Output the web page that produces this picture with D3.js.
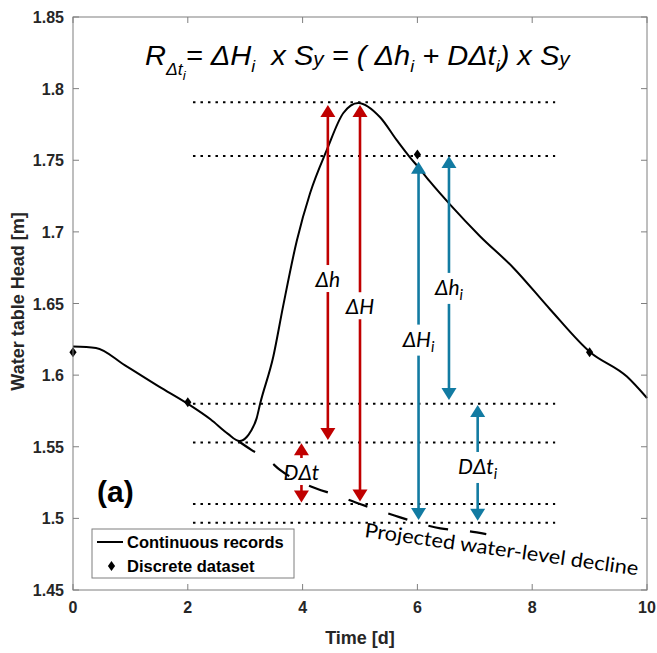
<!DOCTYPE html>
<html><head><meta charset="utf-8">
<script src="https://cdn.jsdelivr.net/npm/d3@7"></script>
<style>
html,body{margin:0;padding:0;background:#fff;}
svg{display:block;}
</style></head>
<body>
<script>
// ---------- data ----------
const xTicks = [0, 2, 4, 6, 8, 10];
const yTicks = [1.45, 1.5, 1.55, 1.6, 1.65, 1.7, 1.75, 1.8, 1.85];
const yTickLabels = ["1.45", "1.5", "1.55", "1.6", "1.65", "1.7", "1.75", "1.8", "1.85"];

const contX = [0, 0.4, 0.9, 1.5, 2.0, 2.4, 2.7, 2.9, 3.03, 3.1, 3.2, 3.26, 3.49, 3.66, 3.9, 4.13, 4.42, 4.71, 4.97, 5.35, 5.64, 5.87, 6.02, 6.22, 6.57, 7.09, 7.67, 8.31, 9.01, 9.65, 10];
const contY = [1.620, 1.619, 1.607, 1.592, 1.580, 1.569, 1.559, 1.554, 1.557, 1.561, 1.570, 1.580, 1.613, 1.648, 1.694, 1.727, 1.757, 1.783, 1.790, 1.780, 1.764, 1.752, 1.745, 1.735, 1.719, 1.697, 1.675, 1.646, 1.616, 1.599, 1.584];

const discX = [0, 2, 6, 9];
const discY = [1.616, 1.581, 1.754, 1.616];

const projX = [2.88, 3.1, 3.4, 3.6, 4.1, 4.6, 5.0, 5.6, 6.0, 6.4, 6.9, 7.2];
const projY = [1.554, 1.548, 1.541, 1.534, 1.523, 1.516, 1.510, 1.502, 1.497, 1.493, 1.491, 1.489];

const refLevels = [1.7905, 1.753, 1.580, 1.553, 1.510, 1.497];
const refStart = 2.09, refEnd = 8.4;

const arrowX      = [4.44, 5.0, 3.98, 6.02, 6.55, 7.05];
const arrowTop    = [1.7886, 1.7886, 1.5524, 1.749, 1.753, 1.5792];
const arrowBottom = [1.5547, 1.5117, 1.511, 1.4989, 1.5827, 1.4984];
const arrowGroup  = ["red", "red", "red", "blue", "blue", "blue"];
const labelMain   = ["Δh", "ΔH", "DΔt", "ΔH", "Δh", "DΔt"];
const labelSub    = ["", "", "", "i", "i", "i"];
const labelY      = [1.6615, 1.6425, 1.5268, 1.6199, 1.656, 1.531];

const legendLabels = ["Continuous records", "Discrete dataset"];

// ---------- setup ----------
const W = 657, H = 653;
const L = 73, R = 647, T = 17, B = 590;
const svg = d3.select("body").append("svg").attr("width", W).attr("height", H);
const x = d3.scaleLinear().domain([0, 10]).range([L, R]);
const y = d3.scaleLinear().domain([1.45, 1.85]).range([B, T]);
const colors = {red: "#c00000", blue: "#127ba2"};
const axisCol = "#7f7f7f", textCol = "#262626";
const sansB = "'Liberation Sans', Arial, Helvetica, sans-serif";
const cal = "Lato, 'Noto Sans', sans-serif";

// ---------- reference dotted lines ----------
svg.append("g").selectAll("line").data(refLevels).join("line")
  .attr("x1", x(refStart)).attr("x2", x(refEnd))
  .attr("y1", d => y(d)).attr("y2", d => y(d))
  .attr("stroke", "#000").attr("stroke-width", 2)
  .attr("stroke-dasharray", "2.5,5");

// ---------- projected decline ----------
const proj = projX.map((d, i) => [d, projY[i]]);
svg.append("path").datum(proj)
  .attr("d", d3.line().x(d => x(d[0])).y(d => y(d[1])).curve(d3.curveMonotoneX))
  .attr("fill", "none").attr("stroke", "#000").attr("stroke-width", 2.2)
  .attr("stroke-dasharray", "20,22");

// ---------- continuous curve ----------
const cont = contX.map((d, i) => [d, contY[i]]);
svg.append("path").datum(cont)
  .attr("d", d3.line().x(d => x(d[0])).y(d => y(d[1])).curve(d3.curveMonotoneX))
  .attr("fill", "none").attr("stroke", "#000").attr("stroke-width", 2);

// ---------- discrete points ----------
const diamond = "M0,-5L3.6,0L0,5L-3.6,0Z";
svg.append("g").selectAll("path").data(discX).join("path")
  .attr("d", diamond)
  .attr("transform", (d, i) => `translate(${x(d)},${y(discY[i])})`)
  .attr("fill", "#000");

// ---------- arrows ----------
const headH = 12, headW = 15, shaftW = 2.6;
const ag = svg.append("g");
arrowX.forEach((ax, i) => {
  const c = colors[arrowGroup[i]];
  const px = x(ax), yt = y(arrowTop[i]), yb = y(arrowBottom[i]);
  ag.append("line").attr("x1", px).attr("x2", px)
    .attr("y1", yt + headH - 1).attr("y2", yb - headH + 1)
    .attr("stroke", c).attr("stroke-width", shaftW);
  ag.append("path").attr("d", `M${px},${yt}L${px + headW / 2},${yt + headH}L${px - headW / 2},${yt + headH}Z`).attr("fill", c);
  ag.append("path").attr("d", `M${px},${yb}L${px + headW / 2},${yb - headH}L${px - headW / 2},${yb - headH}Z`).attr("fill", c);
});

// labels with white gap on shaft
const lg = svg.append("g");
arrowX.forEach((ax, i) => {
  const px = x(ax), py = y(labelY[i]);
  const t = lg.append("text").attr("x", px).attr("y", py)
    .attr("text-anchor", "middle")
    .attr("font-family", cal).attr("font-style", "italic")
    .attr("font-size", 21).attr("fill", "#000");
  t.append("tspan").text(labelMain[i]);
  if (labelSub[i]) t.append("tspan").attr("font-size", 15).attr("dy", 5).text(labelSub[i]);
  const bb = t.node().getBBox();
  lg.insert("rect", () => t.node())
    .attr("x", px - 5).attr("width", 10)
    .attr("y", bb.y - 1).attr("height", bb.height + 2)
    .attr("fill", "#fff");
});

// ---------- frame, ticks ----------
const ax = svg.append("g").attr("stroke", axisCol).attr("stroke-width", 1);
ax.append("rect").attr("x", L).attr("y", T).attr("width", R - L).attr("height", B - T).attr("fill", "none");
const tk = 6;
xTicks.forEach(v => {
  ax.append("line").attr("x1", x(v)).attr("x2", x(v)).attr("y1", B).attr("y2", B - tk);
  ax.append("line").attr("x1", x(v)).attr("x2", x(v)).attr("y1", T).attr("y2", T + tk);
});
yTicks.forEach(v => {
  ax.append("line").attr("y1", y(v)).attr("y2", y(v)).attr("x1", L).attr("x2", L + tk);
  ax.append("line").attr("y1", y(v)).attr("y2", y(v)).attr("x1", R).attr("x2", R - tk);
});

svg.append("g").selectAll("text").data(xTicks).join("text")
  .attr("x", d => x(d)).attr("y", B + 23).attr("text-anchor", "middle")
  .attr("font-family", sansB).attr("font-weight", "bold").attr("font-size", 16)
  .attr("fill", textCol).text(d => d);
svg.append("g").selectAll("text").data(yTicks).join("text")
  .attr("x", L - 9).attr("y", d => y(d) + 6).attr("text-anchor", "end")
  .attr("font-family", sansB).attr("font-weight", "bold").attr("font-size", 16)
  .attr("fill", textCol).text((d, i) => yTickLabels[i]);

svg.append("text").attr("x", (L + R) / 2).attr("y", 644).attr("text-anchor", "middle")
  .attr("font-family", sansB).attr("font-weight", "bold").attr("font-size", 18)
  .attr("fill", textCol).text("Time [d]");
svg.append("text").attr("transform", `translate(24,${(T + B) / 2 - 2}) rotate(-90)`)
  .attr("text-anchor", "middle")
  .attr("font-family", sansB).attr("font-weight", "bold").attr("font-size", 18)
  .attr("fill", textCol).text("Water table Head [m]");

// ---------- (a) ----------
svg.append("text").attr("x", 97).attr("y", 502)
  .attr("font-family", sansB).attr("font-weight", "bold").attr("font-size", 30)
  .attr("fill", "#000").text("(a)");

// ---------- projected text ----------
svg.append("text").attr("transform", "translate(364,537) rotate(8)")
  .attr("font-family", cal).attr("font-size", 20).attr("fill", "#000")
  .attr("textLength", 276).attr("lengthAdjust", "spacingAndGlyphs")
  .text("Projected water-level decline");

// ---------- equation (flowing tspans, fitted to width) ----------
const eqG = svg.append("g");
const eq = eqG.append("text").attr("x", 0).attr("y", 65)
  .attr("font-family", sansB).attr("font-style", "italic").attr("font-size", 28)
  .attr("fill", "#000").style("white-space", "pre");
const eqParts = [
  ["R", 28, 0], ["Δt", 17, 10], ["i", 13, 5], ["= ΔH", 28, -15], ["i", 17, 7],
  ["  x S", 28, -7], ["y", 20, 1], [" = ( Δh", 28, -1], ["i", 17, 7],
  [" + DΔt", 28, -7], ["i", 17, 7], [") x S", 28, -7], ["y", 20, 1]
];
eqParts.forEach(p => eq.append("tspan").attr("font-size", p[1]).attr("dy", p[2]).text(p[0]));
const eqW = eq.node().getComputedTextLength();
const eqTarget = 425;
eqG.attr("transform", `translate(145,0) scale(${eqTarget / eqW},1)`);

// ---------- legend ----------
const lgX = 92, lgY = 529;
svg.append("rect").attr("x", lgX).attr("y", lgY).attr("width", 202).attr("height", 49)
  .attr("fill", "#fff").attr("stroke", axisCol).attr("stroke-width", 1);
svg.append("line").attr("x1", lgX + 5).attr("x2", lgX + 31).attr("y1", lgY + 13).attr("y2", lgY + 13)
  .attr("stroke", "#000").attr("stroke-width", 2);
svg.append("path").attr("d", diamond).attr("transform", `translate(${lgX + 19.5},${lgY + 37})`).attr("fill", "#000");
svg.append("g").selectAll("text").data(legendLabels).join("text")
  .attr("x", lgX + 35).attr("y", (d, i) => lgY + 19 + i * 24)
  .attr("font-family", sansB).attr("font-weight", "bold").attr("font-size", 16.5)
  .attr("fill", "#000").text(d => d);
</script>
</body></html>
